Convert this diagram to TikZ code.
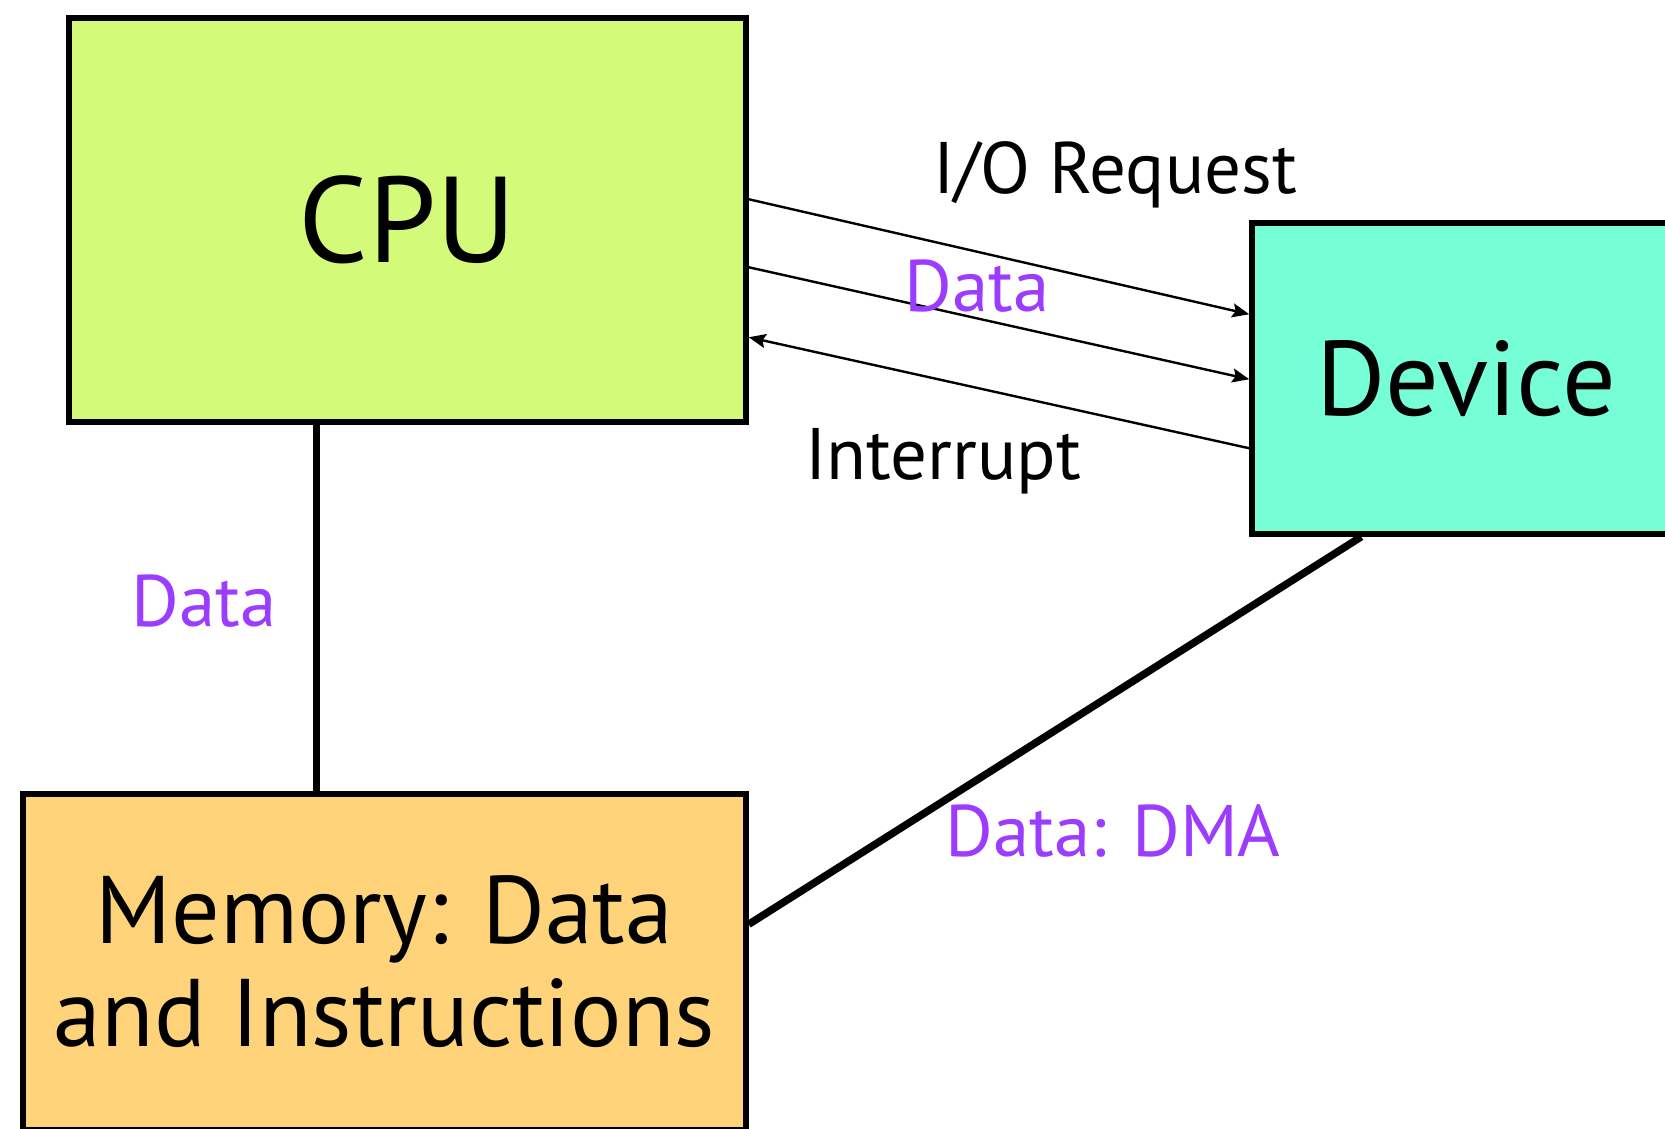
\documentclass[tikz,border=0pt]{standalone}
\usepackage{fontspec}
\setmainfont{PT Sans}
\usetikzlibrary{arrows.meta}
\definecolor{cpugreen}{HTML}{D4FA7A}
\definecolor{devaqua}{HTML}{76FFD7}
\definecolor{memorange}{HTML}{FFD37A}
\definecolor{datapurple}{HTML}{9B3CFF}

\begin{document}
\begin{tikzpicture}[x=1pt,y=-1pt,line cap=butt,
  unit/.style={draw=black,line width=5.5pt,inner sep=0pt},
  flow/.style={-{Stealth[length=17pt,width=14pt,inset=3pt]},line width=2.4pt},
  bus/.style={line width=7.5pt},
  lbl/.style={inner sep=0pt,font=\fontsize{73}{86}\selectfont},
  datalbl/.style={lbl,text=datapurple}]
\useasboundingbox (0,0) rectangle (1665,1128);
\node[unit,fill=cpugreen,minimum width=677pt,minimum height=404pt,font=\fontsize{122}{124}\selectfont] (cpu) at (407.5,220) {CPU};
\node[unit,fill=devaqua,minimum width=428pt,minimum height=311pt,font=\fontsize{106}{108}\selectfont] (dev) at (1466,378.5) {Device};
\node[unit,fill=memorange,minimum width=723pt,minimum height=336pt,align=center,font=\fontsize{96}{103}\selectfont] (mem) at (384.5,962) {Memory: Data\\and Instructions};
\draw[flow] ([yshift=-184pt]cpu.north east) -- ([yshift=-94pt]dev.north west);
\draw[flow] ([yshift=-252pt]cpu.north east) -- ([yshift=-159pt]dev.north west);
\draw[flow] ([yshift=-228pt]dev.north west) -- ([yshift=-322pt]cpu.north east);
\draw[bus] ([xshift=250pt]cpu.south west) -- ([xshift=250pt]cpu.south west |- mem.north);
\draw[bus] ([xshift=112pt]dev.south west) -- ([yshift=-133pt]mem.north east);
\node[lbl] (req) at (1115,175) {I/O Request};
\node[datalbl] (reqdata) at (977,286) {Data};
\node[lbl] (intr) at (943,461) {Interrupt};
\node[datalbl] (busdata) at (204,601) {Data};
\node[datalbl] (dma) at (1113,831) {Data: DMA};
\end{tikzpicture}
\end{document}
